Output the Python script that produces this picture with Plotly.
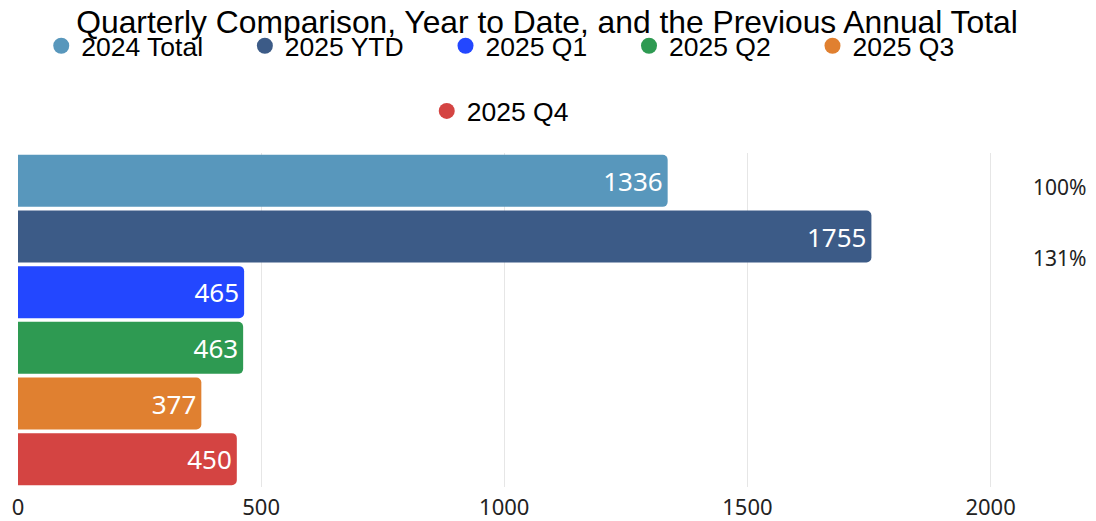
import plotly.graph_objects as go

categories = ["2024 Total", "2025 YTD", "2025 Q1", "2025 Q2", "2025 Q3", "2025 Q4"]
values = [1336, 1755, 465, 463, 377, 450]
colors = ["#5897BC", "#3C5B87", "#2347FF", "#2E9A52", "#E08030", "#D44442"]
pct_labels = [f"{round(v / values[0] * 100)}%" for v in values[:2]]
x_ticks = [0, 500, 1000, 1500, 2000]

TITLE_FONT = "Liberation Sans Narrow, Arial Narrow, sans-serif"
BODY_FONT = "Noto Sans, Open Sans, sans-serif"
PAD = "\u00a0" * 5

fig = go.Figure()
for cat, val, col in zip(categories, values, colors):
    fig.add_trace(go.Bar(
        x=[val], y=[cat], orientation="h", name=cat,
        marker=dict(color=col, line=dict(width=0)),
        text=[str(val)], textposition="inside", insidetextanchor="end",
        textfont=dict(color="white", size=26, family=BODY_FONT),
        showlegend=False, hoverinfo="x+y",
    ))
for i, (cat, col) in enumerate(zip(categories, colors)):
    fig.add_trace(go.Scatter(
        x=[None], y=[None], mode="markers", name=cat + PAD,
        marker=dict(color=col, size=16, symbol="circle"),
        legend="legend" if i < 5 else "legend2",
        showlegend=True,
    ))

ann = []
pct_y = [0.897, 0.687]
for lab, yy in zip(pct_labels, pct_y):
    ann.append(dict(text=lab, x=1.0504, y=yy, xref="paper", yref="paper",
                    showarrow=False, xanchor="center", yanchor="middle",
                    font=dict(size=21, color="#222222", family=BODY_FONT)))

fig.update_layout(
    width=1096, height=521,
    paper_bgcolor="white", plot_bgcolor="white",
    margin=dict(l=10, r=94, t=145, b=42),
    title=dict(text="Quarterly Comparison, Year to Date, and the Previous Annual Total",
               x=0.4918, xanchor="center", y=0.973, yanchor="middle",
               font=dict(family=TITLE_FONT, size=31.8, color="black")),
    barmode="overlay", bargap=0.065, barcornerradius=5,
    xaxis=dict(range=[0, 2040], tickvals=x_ticks, showgrid=True,
               gridcolor="#E6E6E6", gridwidth=1, zeroline=False,
               tickfont=dict(size=22, family=BODY_FONT, color="#222222"),
               ticks="", showline=False, automargin=False, ticklabelstandoff=5),
    yaxis=dict(categoryorder="array", categoryarray=categories,
               autorange="reversed", showticklabels=False, showgrid=False,
               zeroline=False, ticks="", automargin=False),
    legend=dict(orientation="h", x=0.466, xanchor="center", xref="container",
                y=0.927, yanchor="middle", yref="container",
                font=dict(family=TITLE_FONT, size=26.5, color="black"),
                itemsizing="trace", bgcolor="rgba(0,0,0,0)"),
    legend2=dict(orientation="h", x=0.466, xanchor="center", xref="container",
                 y=0.802, yanchor="middle", yref="container",
                 font=dict(family=TITLE_FONT, size=26.5, color="black"),
                 itemsizing="trace", bgcolor="rgba(0,0,0,0)"),
    annotations=ann,
)

fig.write_html("out.html")
